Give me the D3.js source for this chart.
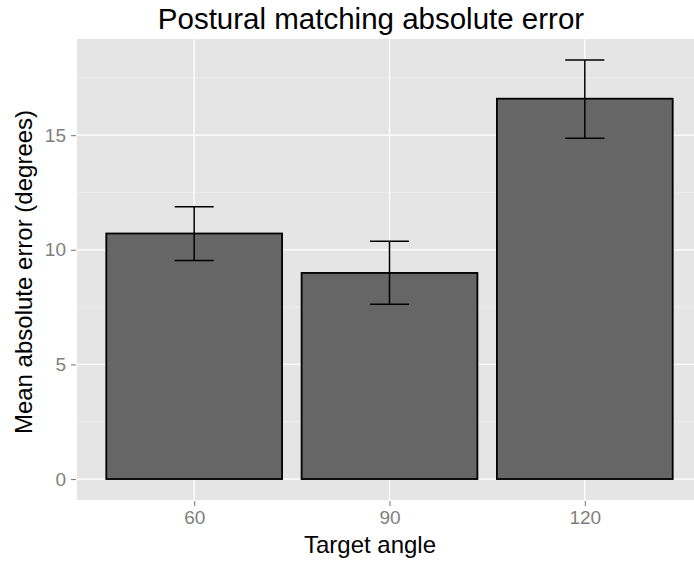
<!DOCTYPE html>
<html>
<head>
<meta charset="utf-8">
<script src="https://cdn.jsdelivr.net/npm/d3@7"></script>
<style>
  body { margin: 0; background: #fff; }
  text { font-family: "Liberation Sans", Arial, sans-serif; }
</style>
</head>
<body>
<div id="chart"></div>
<script>
// data
var angles = ['60', '90', '120'];
var meanErr = [10.71, 8.99, 16.59];
var errLow = [9.53, 7.62, 14.87];
var errHigh = [11.88, 10.37, 18.28];
var yTicks = [0, 5, 10, 15];
var yMinor = [2.5, 7.5, 12.5, 17.5];

var svgWidth = 694;
var svgHeight = 563;

// panel box (runs a bit past the right edge, as in the picture)
var panel = { left: 77, top: 39, right: 702, bottom: 500 };

var svg = d3.select('#chart')
    .append('svg')
    .attr('width', svgWidth)
    .attr('height', svgHeight);

// discrete x: positions 1..n with 0.6 padding each side
var xScale = d3.scaleLinear()
    .domain([0.4, angles.length + 0.6])
    .range([panel.left, panel.right]);

var yMax = d3.max(errHigh);
var pad = yMax * 0.05;
var yScale = d3.scaleLinear()
    .domain([-pad, yMax + pad])
    .range([panel.bottom, panel.top]);

// panel background
svg.append('rect')
    .attr('x', panel.left)
    .attr('y', panel.top)
    .attr('width', panel.right - panel.left)
    .attr('height', panel.bottom - panel.top)
    .attr('fill', '#e5e5e5');

// minor grid
svg.selectAll('.minor')
    .data(yMinor)
    .enter()
    .append('line')
    .attr('x1', panel.left)
    .attr('x2', panel.right)
    .attr('y1', d => yScale(d))
    .attr('y2', d => yScale(d))
    .attr('stroke', '#f2f2f2')
    .attr('stroke-width', 0.6);

// major grid
svg.selectAll('.majorY')
    .data(yTicks)
    .enter()
    .append('line')
    .attr('x1', panel.left)
    .attr('x2', panel.right)
    .attr('y1', d => yScale(d))
    .attr('y2', d => yScale(d))
    .attr('stroke', '#fff')
    .attr('stroke-width', 1.3);

svg.selectAll('.majorX')
    .data(angles)
    .enter()
    .append('line')
    .attr('x1', (d, i) => xScale(i + 1))
    .attr('x2', (d, i) => xScale(i + 1))
    .attr('y1', panel.top)
    .attr('y2', panel.bottom)
    .attr('stroke', '#fff')
    .attr('stroke-width', 1.3);

// bars
var barW = xScale(1.9) - xScale(1);
svg.selectAll('.bar')
    .data(meanErr)
    .enter()
    .append('rect')
    .attr('x', (d, i) => xScale(i + 1) - barW / 2)
    .attr('y', d => yScale(d))
    .attr('width', barW)
    .attr('height', d => yScale(0) - yScale(d))
    .attr('fill', '#666666')
    .attr('stroke', '#000')
    .attr('stroke-width', 1.8);

// error bars
var capW = xScale(1.2) - xScale(1);
var errs = svg.selectAll('.err')
    .data(meanErr)
    .enter()
    .append('g')
    .attr('stroke', '#000')
    .attr('stroke-width', 1.5);

errs.append('line')
    .attr('x1', (d, i) => xScale(i + 1))
    .attr('x2', (d, i) => xScale(i + 1))
    .attr('y1', (d, i) => yScale(errLow[i]))
    .attr('y2', (d, i) => yScale(errHigh[i]));

errs.append('line')
    .attr('x1', (d, i) => xScale(i + 1) - capW / 2)
    .attr('x2', (d, i) => xScale(i + 1) + capW / 2)
    .attr('y1', (d, i) => yScale(errHigh[i]))
    .attr('y2', (d, i) => yScale(errHigh[i]));

errs.append('line')
    .attr('x1', (d, i) => xScale(i + 1) - capW / 2)
    .attr('x2', (d, i) => xScale(i + 1) + capW / 2)
    .attr('y1', (d, i) => yScale(errLow[i]))
    .attr('y2', (d, i) => yScale(errLow[i]));

// y axis ticks and labels
var yAxis = svg.append('g')
    .attr('transform', `translate(${panel.left}, 0)`)
    .call(d3.axisLeft(yScale).tickValues(yTicks).tickSize(6).tickPadding(5));
yAxis.select('.domain').remove();
yAxis.selectAll('line').attr('stroke', '#7f7f7f').attr('stroke-width', 1.1)
    .attr('x1', -1);
yAxis.selectAll('text')
    .attr('fill', '#7f7f7f')
    .style('font-size', '19px')
    .style('font-family', '"Liberation Sans", Arial, sans-serif');

// x axis ticks and labels
var xAxis = svg.append('g')
    .attr('transform', `translate(0, ${panel.bottom})`)
    .call(d3.axisBottom(xScale)
        .tickValues(angles.map((d, i) => i + 1))
        .tickFormat((d, i) => angles[i])
        .tickSize(6).tickPadding(5));
xAxis.select('.domain').remove();
xAxis.selectAll('line').attr('stroke', '#7f7f7f').attr('stroke-width', 1.1)
    .attr('y1', 1);
xAxis.selectAll('text')
    .attr('fill', '#7f7f7f')
    .style('font-size', '19px')
    .style('font-family', '"Liberation Sans", Arial, sans-serif');

// titles
svg.append('text')
    .attr('x', 371)
    .attr('y', 29)
    .attr('text-anchor', 'middle')
    .style('font-size', '29.5px')
    .text('Postural matching absolute error');

svg.append('text')
    .attr('x', 370)
    .attr('y', 553)
    .attr('text-anchor', 'middle')
    .style('font-size', '24px')
    .text('Target angle');

svg.append('text')
    .attr('transform', 'translate(32, 272) rotate(-90)')
    .attr('text-anchor', 'middle')
    .style('font-size', '24px')
    .text('Mean absolute error (degrees)');
</script>
</body>
</html>
